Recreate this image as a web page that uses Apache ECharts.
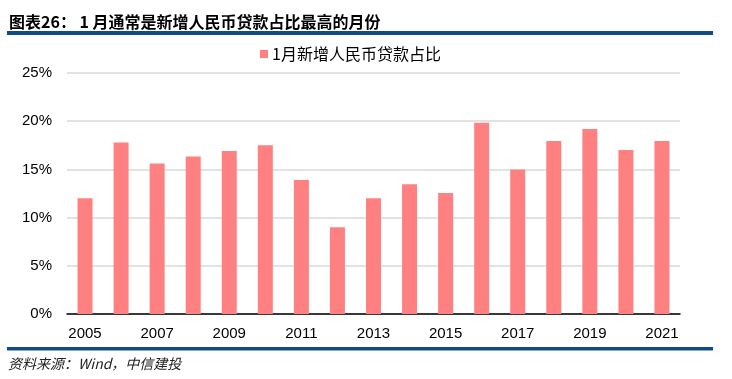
<!DOCTYPE html>
<html>
<head>
<meta charset="utf-8">
<script src="https://cdn.jsdelivr.net/npm/echarts@6/dist/echarts.min.js"></script>
<style>
html,body{margin:0;padding:0;background:#fff;}
#main{width:732px;height:379px;}
</style>
</head>
<body>
<div id="main"></div>
<script>
var years = ['2005','2006','2007','2008','2009','2010','2011','2012','2013','2014','2015','2016','2017','2018','2019','2020','2021'];
var shareValues = [12.0, 17.8, 15.6, 16.35, 16.9, 17.5, 13.9, 9.0, 12.0, 13.45, 12.55, 19.85, 15.0, 17.95, 19.2, 17.0, 17.95];
var seriesName = '1月新增人民币贷款占比';
var titleText = '图表26： 1 月通常是新增人民币贷款占比最高的月份';
var sourceText = '资料来源：Wind，中信建投';
var yTicks = [0, 5, 10, 15, 20, 25];

var chart = echarts.init(document.getElementById('main'));
var blue = '#0F4C81';
chart.setOption({
  backgroundColor: '#fff',
  animation: false,
  title: {
    text: titleText,
    left: 4,
    top: 9,
    textStyle: {fontFamily: 'Noto Sans CJK SC', fontWeight: 'bold', fontSize: 16, color: '#000'}
  },
  legend: {
    data: [seriesName],
    left: 255,
    top: 41,
    icon: 'rect',
    itemWidth: 8,
    itemHeight: 8,
    itemGap: 4,
    textStyle: {fontFamily: 'Noto Sans CJK SC', fontSize: 16, color: '#000', padding: [0,0,0,-1]}
  },
  graphic: [
    {type: 'rect', shape: {x: 7, y: 31, width: 706, height: 4}, style: {fill: blue}, silent: true},
    {type: 'rect', shape: {x: 7, y: 347, width: 706, height: 3.5}, style: {fill: blue}, silent: true},
    {type: 'text', left: 8, top: 357, style: {text: sourceText, font: 'italic 14px "Noto Sans CJK SC"', fill: '#222'}}
  ],
  grid: {left: 67, right: 52, top: 73, bottom: 65},
  xAxis: {
    type: 'category',
    data: years,
    axisLine: {lineStyle: {color: '#000', width: 1.5}},
    axisTick: {inside: true, length: 5, interval: 1, lineStyle: {color: '#000'}},
    axisLabel: {interval: 1, margin: 12, fontFamily: 'Liberation Sans', fontSize: 15, color: '#000'}
  },
  yAxis: {
    type: 'value',
    min: yTicks[0],
    max: yTicks[yTicks.length - 1],
    interval: 5,
    axisLine: {show: false},
    axisTick: {show: false},
    splitLine: {lineStyle: {color: '#D9D9D9', width: 1.5}},
    axisLabel: {margin: 15, fontFamily: 'Liberation Sans', fontSize: 15, color: '#000', formatter: '{value}%'}
  },
  series: [{
    name: seriesName,
    type: 'bar',
    data: shareValues,
    barWidth: 15,
    itemStyle: {color: '#FF8080'}
  }]
});
</script>
</body>
</html>
